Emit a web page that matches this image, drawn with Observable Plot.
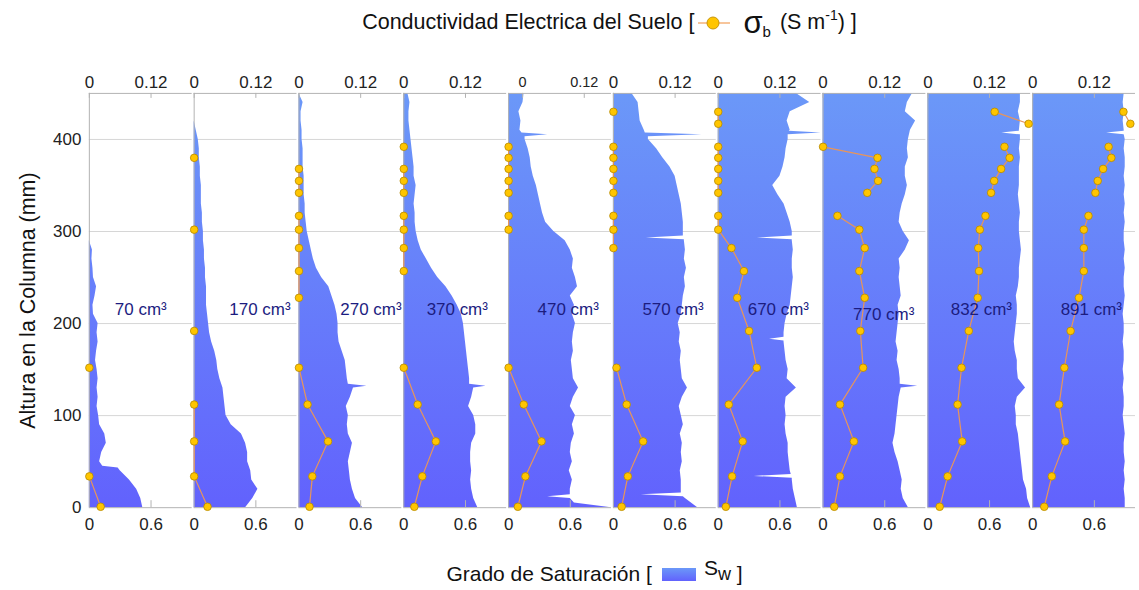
<!DOCTYPE html>
<html><head><meta charset="utf-8">
<script src="https://cdn.jsdelivr.net/npm/d3@7"></script>
<script src="https://cdn.jsdelivr.net/npm/@observablehq/plot@0.6"></script>
<style>
body{margin:0;background:#fff;font-family:"Liberation Sans",Arial,sans-serif;overflow:hidden;width:1139px;height:590px;color:#111}
#titulo{height:45px;display:flex;align-items:center;justify-content:center;font-size:21.5px;padding-left:80px;white-space:nowrap}
#pie{height:54px;display:flex;align-items:center;justify-content:center;font-size:21px;padding-left:50px;white-space:nowrap}
.sym{display:inline-block;vertical-align:middle;margin:0 7px 0 4px}
.sig{font-size:31px;line-height:20px;margin-left:6px}
.sub{font-size:15px;position:relative;top:9px;margin-right:9px}
.sup{font-size:14px;position:relative;top:-8px}
.sw{display:inline-block;width:34px;height:13px;background:linear-gradient(#6b98f8,#6262fd);margin:0 8px 0 10px;vertical-align:middle}
</style></head><body>
<div id="titulo">Conductividad Electrica del Suelo [<svg class="sym" width="32" height="16"><line x1="0" y1="8" x2="32" y2="8" stroke="#f5b27a" stroke-width="1.5"/><circle cx="15" cy="8" r="6" fill="#ffc500" stroke="#c8960a" stroke-width="1"/></svg><span class="sig">σ</span><span class="sub">b</span>(S m<span class="sup">-1</span>) ]</div>
<div id="grafico"></div>
<div id="pie">Grado de Saturación [<span class="sw"></span><span style="position:relative;top:-6px">S</span><span style="font-size:18px">w</span>&nbsp;]</div>
<script>
// ---- datos ----
const volumenes = [70, 170, 270, 370, 470, 570, 670, 770, 832, 891];
const etiquetas = volumenes.map(v => v + " cm³");

// Grado de saturación Sw (perfil cada 10 mm)
const alturasSw = [0,10,20,30,40,50,60,70,80,90,100,110,120,130,140,150,160,170,180,190,200,210,220,230,240,250,260,270,280,290,300,310,320,330,340,350,360,370,380,390,400,410,420,430,440,450];
const sw70  = [0.52,0.50,0.46,0.39,0.30,0.10,0.12,0.165,0.15,0.10,0.09,0.075,0.085,0.075,0.085,0.075,0.06,0.07,0.085,0.075,0.085,0.04,0.035,0.055,0.07,0.04,0.035,0.025,0.03,0,0,0,0,0,0,0,0,0,0,0,0,0,0,0,0,0];
const sw170 = [0.50,0.57,0.62,0.56,0.55,0.52,0.52,0.50,0.46,0.36,0.31,0.30,0.29,0.28,0.25,0.23,0.22,0.20,0.17,0.15,0.14,0.13,0.12,0.12,0.12,0.11,0.11,0.10,0.10,0.09,0.09,0.08,0.08,0.07,0.07,0.07,0.06,0.06,0.05,0.05,0.04,0.02,0,0,0,0];
const sw270 = [0.62,0.55,0.52,0.50,0.49,0.48,0.50,0.52,0.48,0.47,0.48,0.46,0.50,0.53,0.47,0.46,0.45,0.42,0.39,0.38,0.38,0.37,0.35,0.32,0.29,0.22,0.17,0.14,0.12,0.10,0.08,0.07,0.06,0.06,0.05,0.05,0.05,0.04,0.04,0.04,0.03,0.03,0.02,0.02,0.04,0];
const sw370 = [0.72,0.68,0.66,0.65,0.66,0.65,0.65,0.66,0.70,0.70,0.68,0.63,0.66,0.68,0.64,0.63,0.62,0.61,0.60,0.59,0.58,0.56,0.52,0.47,0.41,0.33,0.27,0.22,0.17,0.14,0.12,0.11,0.11,0.10,0.11,0.12,0.10,0.10,0.09,0.08,0.07,0.06,0.05,0.05,0.06,0.04];
const sw470 = [1.0,0.60,0.60,0.62,0.59,0.62,0.60,0.61,0.64,0.62,0.65,0.60,0.63,0.68,0.63,0.62,0.61,0.63,0.62,0.63,0.65,0.62,0.64,0.60,0.67,0.65,0.62,0.63,0.60,0.55,0.44,0.36,0.33,0.31,0.29,0.27,0.24,0.22,0.21,0.19,0.16,0.11,0.12,0.10,0.14,0.15];
const sw570 = [0.82,0.70,0.66,0.66,0.65,0.67,0.66,0.67,0.65,0.68,0.66,0.64,0.67,0.72,0.67,0.66,0.65,0.66,0.64,0.65,0.63,0.66,0.67,0.68,0.70,0.69,0.71,0.69,0.70,0.69,0.68,0.68,0.67,0.66,0.64,0.62,0.60,0.55,0.48,0.42,0.34,0.30,0.26,0.25,0.24,0.18];
const sw670 = [0.77,0.75,0.73,0.72,0.70,0.69,0.68,0.68,0.66,0.65,0.66,0.65,0.66,0.76,0.67,0.68,0.66,0.65,0.64,0.64,0.65,0.67,0.70,0.71,0.72,0.73,0.72,0.72,0.73,0.72,0.72,0.70,0.67,0.64,0.58,0.53,0.60,0.63,0.65,0.66,0.68,0.70,0.67,0.70,0.89,0.76];
const sw770 = [0.83,0.78,0.76,0.77,0.75,0.73,0.70,0.68,0.70,0.71,0.72,0.73,0.74,0.76,0.75,0.74,0.72,0.73,0.71,0.72,0.73,0.74,0.73,0.76,0.75,0.74,0.75,0.74,0.80,0.84,0.78,0.74,0.75,0.77,0.80,0.82,0.80,0.80,0.83,0.82,0.83,0.85,0.90,0.80,0.82,0.87];
const sw832 = [1.0,0.97,0.96,0.93,0.92,0.91,0.90,0.89,0.88,0.86,0.86,0.85,0.87,0.95,0.88,0.87,0.87,0.85,0.84,0.85,0.86,0.87,0.87,0.86,0.88,0.89,0.89,0.90,0.91,0.90,0.89,0.89,0.90,0.89,0.88,0.89,0.89,0.89,0.90,0.89,0.90,0.89,0.90,0.88,0.90,0.90];
const sw891 = [0.90,0.90,0.89,0.90,0.89,0.90,0.89,0.89,0.90,0.89,0.88,0.89,0.89,0.88,0.89,0.88,0.89,0.89,0.88,0.89,0.89,0.88,0.89,0.90,0.89,0.89,0.90,0.89,0.90,0.89,0.89,0.90,0.89,0.90,0.89,0.90,0.89,0.90,0.90,0.89,0.90,0.89,0.88,0.89,0.88,0.89];
// picos y escalones finos: [volumen, altura (mm), Sw]
const extrasSw = [
  [70,43,0.28],[70,45,0.13],
  [270,132,0.66],[270,134,0.48],
  [370,132,0.80],[370,134,0.64],
  [470,5,0.64],[470,12,0.38],[470,14,0.60],[470,403,0.16],[470,405,0.38],[470,407,0.13],
  [570,12,0.68],[570,14,0.27],[570,16,0.66],[570,291,0.69],[570,293,0.32],[570,295,0.68],[570,403,0.34],[570,405,0.86],[570,407,0.31],
  [670,32,0.72],[670,34,0.35],[670,36,0.71],[670,181,0.64],[670,183,0.50],[670,185,0.64],[670,291,0.72],[670,293,0.38],[670,295,0.72],[670,405,0.68],[670,407,1.0],[670,409,0.69],
  [770,132,0.92],[770,134,0.75],
  [832,405,0.90],[832,407,0.72],[832,409,0.89],
  [891,405,0.89],[891,407,0.72],[891,409,0.89]
];

// Conductividad eléctrica σb (S/m)
const alturasSigma = [1,34,72,112,152,192,228,257,282,302,317,342,355,368,380,392,417,430];
const tramoSigma   = [1,1,1,1,1,1,1,1,1,1,1,2,2,2,2,2,3,3];
const s70  = [0.022,0,null,null,0,null,null,null,null,null,null,null,null,null,null,null,null,null];
const s170 = [0.026,0,0,0,null,0,null,null,null,0,null,null,null,null,0,null,null,null];
const s270 = [0.0205,0.026,0.0565,0.0167,0,null,0,0,0,0,0,0,0,0,null,null,null,null];
const s370 = [0.0205,0.036,0.0623,0.027,0,null,null,0,0,0,0,0,0,0,null,0,null,null];
const s470 = [0.018,0.0327,0.064,0.0295,0,null,null,null,null,0,0,0,0,0,0,0,null,null];
const s570 = [0.016,0.028,0.0578,0.0257,0.006,null,null,null,0,0,0,0,0,0,0,0,null,0];
const s670 = [0.0148,0.027,0.0475,0.0205,0.075,0.060,0.037,0.050,0.0257,0,0,0,0,0,0,0,0,0];
const s770 = [0.0218,0.033,0.060,0.033,0.078,0.0725,0.081,0.0706,0.081,0.0706,0.028,0.086,0.107,0.100,0.106,0,null,null];
const s832 = [0.023,0.0385,0.0668,0.0578,0.0655,0.0796,0.097,0.0995,0.098,0.101,0.112,0.123,0.129,0.1425,0.159,0.149,0.196,0.130];
const s891 = [0.0225,0.0372,0.063,0.0514,0.0616,0.0738,0.090,0.0995,0.0995,0.0995,0.1085,0.122,0.1265,0.137,0.153,0.1477,0.190,0.1766];

// ejes
const yDominio = [0, 450];
const yTicks = [0, 100, 200, 300, 400];
const swMax = 1.0;
const sigmaMax = 0.2;
const swTicks = [0, 0.6];
const sigmaTicks = [0, 0.12];
const etiquetaX = [0.50, 0.64, 0.70, 0.52, 0.58, 0.58, 0.585, 0.59, 0.52, 0.57];
const etiquetaY = [215, 215, 215, 215, 215, 215, 215, 210, 215, 215];

// ---- tablas ----
const swPorPanel = [sw70, sw170, sw270, sw370, sw470, sw570, sw670, sw770, sw832, sw891];
const sigmaPorPanel = [s70, s170, s270, s370, s470, s570, s670, s770, s832, s891];
const filasSw = [];
volumenes.forEach((v, i) => {
  const pts = alturasSw.map((h, j) => ({panel: v, h, sw: swPorPanel[i][j]}));
  extrasSw.filter(e => e[0] === v).forEach(e => pts.push({panel: v, h: e[1], sw: e[2]}));
  pts.sort((a, b) => a.h - b.h);
  filasSw.push(...pts);
});
const filasSigma = [];
volumenes.forEach((v, i) => alturasSigma.forEach((h, j) =>
  filasSigma.push({panel: v, h, s: sigmaPorPanel[i][j], tramo: tramoSigma[j]})));
const filasTickArriba = volumenes.flatMap(v => sigmaTicks.map(t => ({panel: v, t})));
const filasTickAbajo = volumenes.flatMap(v => swTicks.map(t => ({panel: v, t})));
const filasEtiq = volumenes.map((v, i) => ({panel: v, x: etiquetaX[i], y: etiquetaY[i], txt: etiquetas[i]}));
const fmt = t => t === 0 ? "0" : String(t);

const W = 1141, H = 503, MT = 48, MB = 40, ML = 86, MR = 0;
const gris = "#b3b3b3";
const sigX = d => d.s == null ? NaN : d.s / sigmaMax * swMax;

const svg = Plot.plot({
  width: W, height: H,
  marginTop: MT, marginBottom: MB, marginLeft: ML, marginRight: MR,
  style: {fontFamily: "Liberation Sans, Arial, sans-serif", color: "#222", background: "white"},
  fx: {domain: volumenes, axis: null, paddingInner: 0.016, paddingOuter: 0},
  x: {domain: [0, swMax], axis: null},
  y: {domain: yDominio, axis: null},
  marks: [
    Plot.gridY(yTicks.filter(t => t > 0), {stroke: "#d6d6d6", strokeOpacity: 1}),
    Plot.areaX(filasSw, {fx: "panel", y: "h", x1: 0, x2: "sw", fill: "url(#gradSw)", curve: "linear"}),
    Plot.ruleY(yDominio, {stroke: gris}),
    Plot.ruleX([0], {stroke: gris}),
    Plot.ruleX(filasTickArriba.filter(d => d.panel !== 470), {fx: "panel", x: d => d.t / sigmaMax * swMax, stroke: gris, insetBottom: 410}),
    Plot.ruleX(filasTickArriba.filter(d => d.panel === 470), {fx: "panel", x: d => d.t / sigmaMax * swMax, stroke: gris, insetBottom: 410, dx: 14}),
    Plot.ruleX(filasTickAbajo.filter(d => d.t > 0), {fx: "panel", x: "t", stroke: gris, insetTop: 408}),
    Plot.line(filasSigma, {fx: "panel", x: sigX, y: "h", z: "tramo", stroke: "#e8955a", strokeWidth: 1.2}),
    Plot.dot(filasSigma.filter(d => d.s != null), {fx: "panel", x: sigX, y: "h", r: 3.8, fill: "#ffc500", stroke: "#b58900", strokeWidth: 0.8}),
    Plot.text(filasEtiq, {fx: "panel", x: "x", y: "y", text: "txt", fill: "#1c1c80", fontSize: 17}),
    Plot.text(filasTickArriba.filter(d => d.panel !== 470), {fx: "panel", x: d => d.t / sigmaMax * swMax, text: d => fmt(d.t), frameAnchor: "top", textAnchor: "middle", dy: -18, fontSize: 17, fill: "#222"}),
    Plot.text(filasTickArriba.filter(d => d.panel === 470), {fx: "panel", x: d => d.t / sigmaMax * swMax, text: d => fmt(d.t), frameAnchor: "top", textAnchor: "middle", dy: -17, dx: 14, fontSize: 14.5, fill: "#222"}),
    Plot.text(filasTickAbajo, {fx: "panel", x: "t", text: d => fmt(d.t), frameAnchor: "bottom", textAnchor: "middle", dy: 22, fontSize: 17, fill: "#222"}),
    Plot.axisY({ticks: yTicks, tickSize: 0, tickPadding: 8, fontSize: 17, label: null, fill: "#222"}),
    Plot.text(["Altura en la Columna (mm)"], {fx: () => volumenes[0], frameAnchor: "left", textAnchor: "middle", rotate: -90, dx: -61, fontSize: 21.5, fill: "#111"})
  ]
});

const defs = d3.select(svg).insert("defs", ":first-child");
const grad = defs.append("linearGradient").attr("id", "gradSw")
  .attr("gradientUnits", "userSpaceOnUse")
  .attr("x1", 0).attr("x2", 0).attr("y1", MT).attr("y2", H - MB);
grad.append("stop").attr("offset", "0%").attr("stop-color", "#6b98f8");
grad.append("stop").attr("offset", "100%").attr("stop-color", "#6262fd");
document.getElementById("grafico").appendChild(svg);
</script>
</body></html>
